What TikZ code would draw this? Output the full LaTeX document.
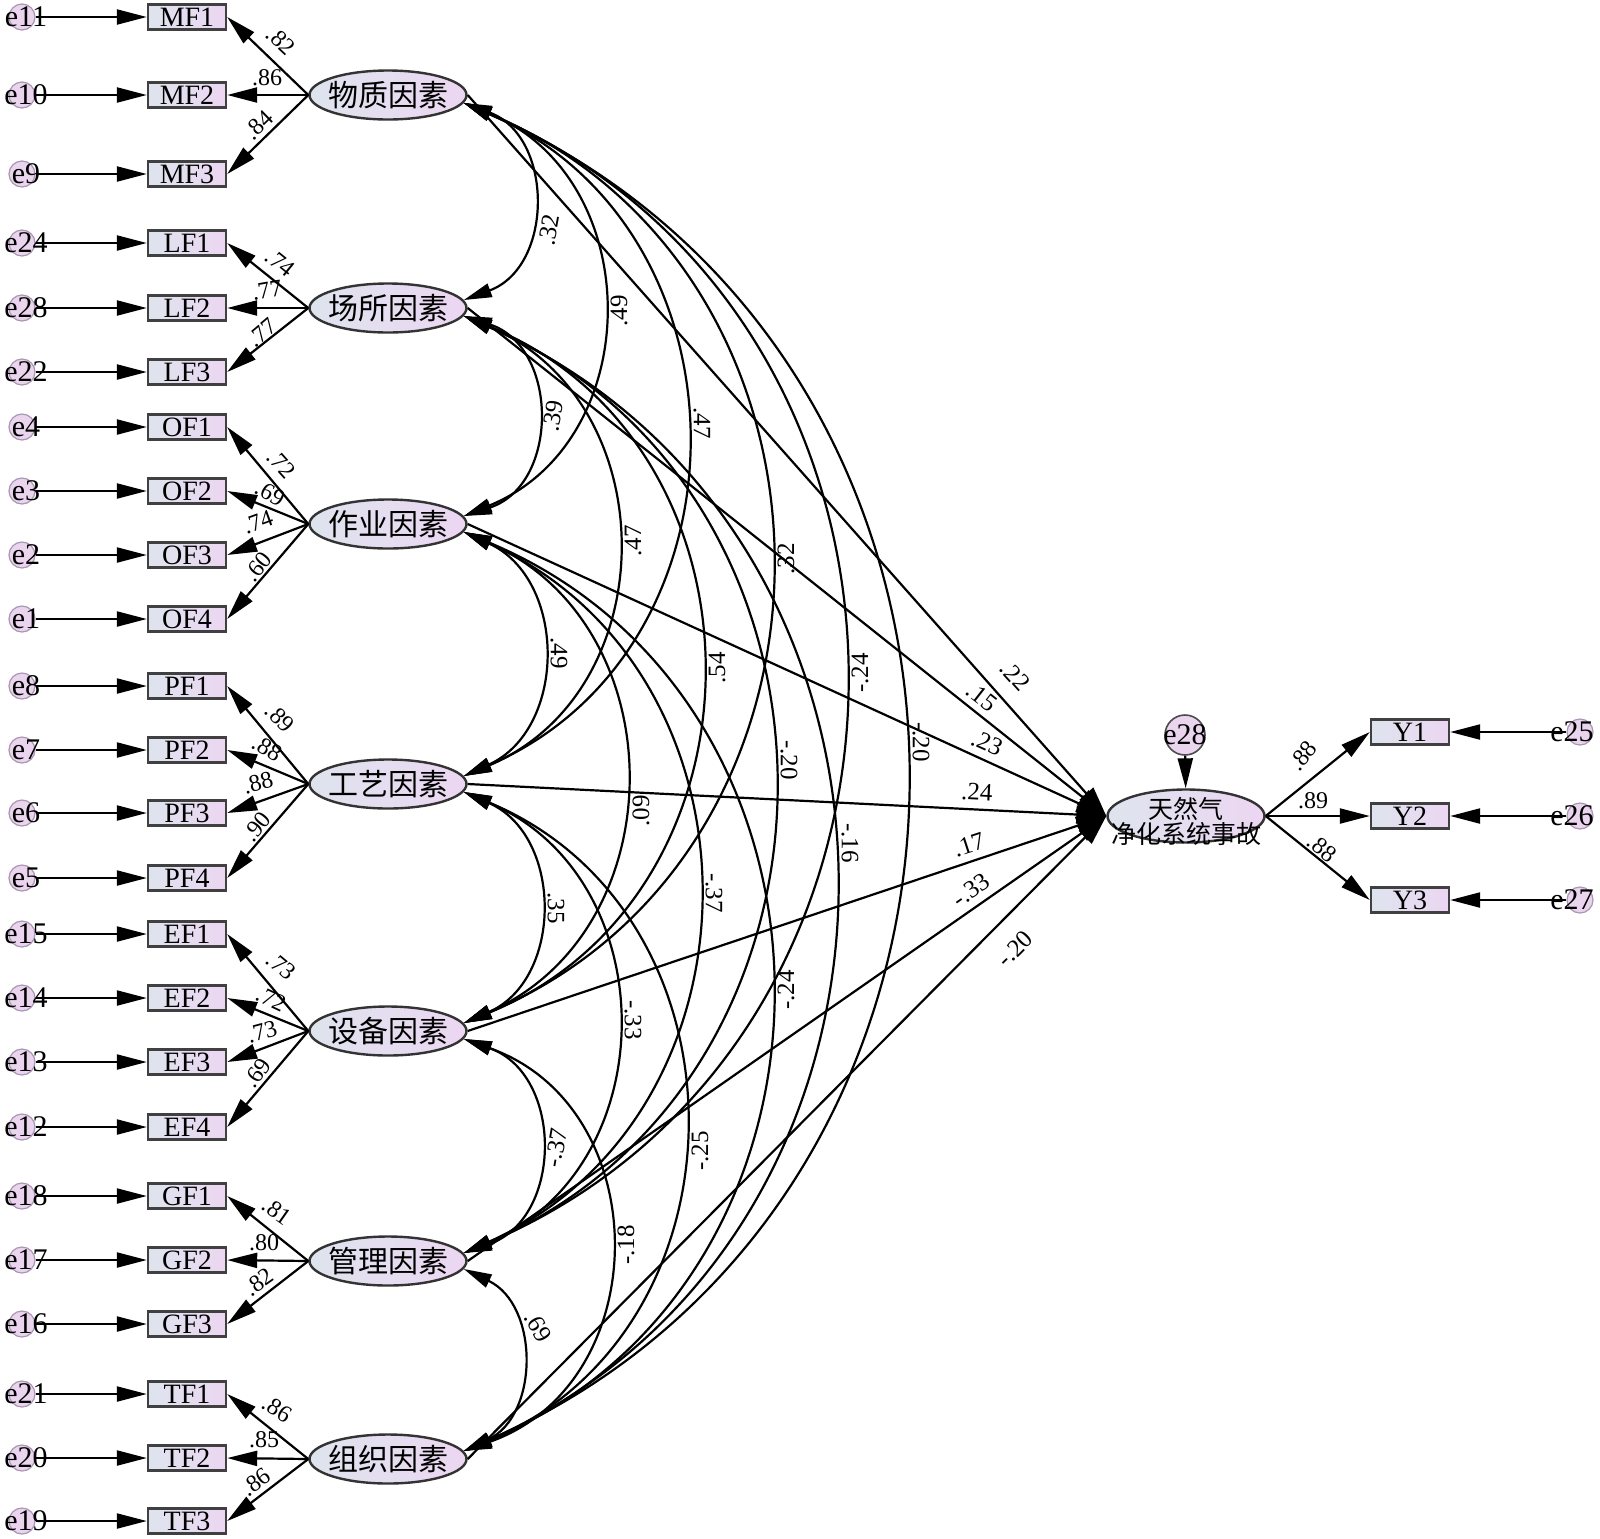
\documentclass[tikz,border=0pt]{standalone}
\usepackage{fontspec}
\setmainfont{Liberation Serif}
\newfontfamily\cjk{Noto Sans CJK SC}
\usetikzlibrary{arrows.meta,shapes.geometric}
\definecolor{boxL}{RGB}{222,228,238}
\definecolor{boxR}{RGB}{236,214,242}
\definecolor{errF}{RGB}{234,212,238}
\definecolor{errD}{RGB}{170,150,178}
\begin{document}
\begin{tikzpicture}[x=0.5pt,y=-0.5pt,
  every node/.style={inner sep=0pt},
  obs/.style={draw=black!75,line width=1.2pt,rectangle,minimum width=39pt,minimum height=12.5pt,left color=boxL,right color=boxR,font=\fontsize{14}{14}\selectfont},
  lat/.style={draw=black!80,line width=1.2pt,ellipse,minimum width=78.5pt,minimum height=24.5pt,left color=boxL,right color=boxR},
  latlab/.style={font=\cjk\fontsize{15}{15}\selectfont},
  err/.style={draw=errD,line width=0.6pt,circle,minimum size=13pt,fill=errF},
  errlab/.style={font=\fontsize{15}{15}\selectfont},
  arr/.style={line width=1.1pt,-{Triangle[length=15pt,width=7.5pt]}},
  sarr/.style={line width=1.1pt,-{Triangle[length=15pt,width=9pt]}},
  covarr/.style={line width=1.1pt,{Triangle[length=14pt,width=7pt]}-{Triangle[length=14pt,width=7pt]}},
  ldlab/.style={font=\fontsize{12}{12}\selectfont},
  coef/.style={font=\fontsize{12.5}{12.5}\selectfont},
]
\fill[white] (0,0) rectangle (1600,1538);
\useasboundingbox (0,0) rectangle (1600,1538);

% latent factors
\foreach \k/\y/\t in {1/95/物质因素,2/308/场所因素,3/524/作业因素,4/784/工艺因素,5/1031/设备因素,6/1261/管理因素,7/1459/组织因素}{
  \node[lat,label={[latlab]center:\t}] (L\k) at (388,\y) {};
}

% observed indicators with error terms
\foreach \n/\y/\e in {MF1/17/e11,MF2/95/e10,MF3/174/e9,
  LF1/243/e24,LF2/308/e28,LF3/372/e22,
  OF1/427/e4,OF2/491/e3,OF3/555/e2,OF4/619/e1,
  PF1/686/e8,PF2/750/e7,PF3/813/e6,PF4/878/e5,
  EF1/934/e15,EF2/998/e14,EF3/1062/e13,EF4/1127/e12,
  GF1/1196/e18,GF2/1260/e17,GF3/1324/e16,
  TF1/1394/e21,TF2/1458/e20,TF3/1521/e19}{
  \node[obs] (\n) at (187,\y) {\n};
  \node[err,label={[errlab,xshift=2pt]center:\e}] (err\n) at (22,\y) {};
  \draw[arr] (err\n) -- (\n);
}

% loadings
\foreach \L/\n/\x/\y/\r/\t in {
  L1/MF1/281/41/-43/.82, L1/MF2/267/78/0/.86, L1/MF3/259/125/44/.84,
  L2/LF1/280/263/-39/.74, L2/LF2/267/290/10/.77, L2/LF3/262/333/40/.77,
  L3/OF1/281/464/-48/.72, L3/OF2/270/493/-30/.69, L3/OF3/258/522/20/.74, L3/OF4/258/567/50/.60,
  L4/PF1/280/718/-45/.89, L4/PF2/267/748/-30/.88, L4/PF3/258/783/15/.88, L4/PF4/257/827/50/.90,
  L5/EF1/281/966/-40/.73, L5/EF2/271/999/-25/.72, L5/EF3/262/1032/15/.73, L5/EF4/257/1073/55/.69,
  L6/GF1/277/1211/-35/.81, L6/GF2/264/1243/0/.80, L6/GF3/259/1282/35/.82,
  L7/TF1/277/1409/-32/.86, L7/TF2/264/1440/0/.85, L7/TF3/256/1482/35/.86}{
  \draw[arr] (\L.west) -- (\n.east);
  \node[ldlab,rotate=\r] (lb\n) at (\x,\y) {\t};
}

% endogenous factor
\node[lat,minimum height=26.5pt] (Z) at (1186,816) {};
\node[font=\cjk\fontsize{12.5}{12.5}\selectfont,align=center] (Zt) at (1186,821) {天然气\\净化系统事故};
\node[err,minimum size=20pt,draw=black!70,line width=0.8pt] (D) at (1185,735) {};
\node[errlab] (Dt) at (D) {e28};
\draw[arr] (D) -- (Z);

% Y indicators
\foreach \n/\y/\e in {Y1/732/e25,Y2/816/e26,Y3/900/e27}{
  \node[obs] (\n) at (1410,\y) {\n};
  \node[err] (err\n) at (1580,\y) {};
  \node[errlab] (t\n) at (1572,\y) {\e};
  \draw[arr] (err\n) -- (\n);
  \draw[arr] (Z.east) -- (\n.west);
}
\node[ldlab,rotate=50] (lbY1) at (1303,756) {.88};
\node[ldlab] (lbY2) at (1313,801) {.89};
\node[ldlab,rotate=-38] (lbY3) at (1322,848) {.88};

% structural paths
\foreach \L/\x/\y/\r/\t in {L1/1015/676/-48/.22, L2/982/697/-38/.15, L3/987/743/-24/.23,
  L4/977/792/-3/.24, L5/969/845/18/.17, L6/971/890/35/-.33, L7/1015/949/45/-.20}{
  \draw[sarr] (\L.east) -- (Z.west);
  \node[coef,rotate=\r] (s\L) at (\x,\y) {\t};
}

% covariances
\foreach \i/\j/\ya/\yb/\h/\lx/\ly/\r/\t in {
  1/2/95/308/69/549/230/80/.32,
  2/3/308/524/73/553/416/80/.39,
  3/4/524/784/79/559/653/-90/.49,
  4/5/784/1031/76/556/908/-90/.35,
  5/6/1031/1261/76/556/1148/80/-.37,
  6/7/1261/1459/58/538/1327/-60/.69,
  1/3/95/524/139/619/311/90/.49,
  2/4/308/784/153/633/541/90/.47,
  3/5/524/1031/161/641/811/90/.09,
  4/6/784/1261/153/633/1020/-90/-.33,
  5/7/1031/1459/146/626/1245/90/-.18,
  1/4/95/784/222/702/423/-90/.47,
  2/5/308/1031/237/717/668/90/.54,
  3/6/524/1261/234/714/893/-90/-.37,
  4/7/784/1459/220/700/1151/90/-.25,
  1/5/95/1031/306/786/559/90/.32,
  2/6/308/1261/309/789/760/-90/-.20,
  3/7/524/1459/306/786/990/90/-.24,
  1/6/95/1261/380/860/673/90/-.24,
  2/7/308/1459/370/850/843/-90/-.16,
  1/7/95/1459/441/921/742/-90/-.20}{
  \pgfmathsetmacro\cvD{(\yb-8)-(\ya+8)}
  \pgfmathsetmacro\cvA{90-2*atan(2*\h/\cvD)}
  \pgfmathsetmacro\cvC{4*\h/3}
  \pgfmathsetmacro\cvS{\cvC*tan(\cvA)}
  \draw[covarr] (L\i.-6) .. controls (462+\cvC,\ya+8+\cvS) and (462+\cvC,\yb-8-\cvS) .. (L\j.6);
  \node[coef,rotate=\r] (c\i\j) at (\lx,\ly) {\t};
}
\end{tikzpicture}
\end{document}
